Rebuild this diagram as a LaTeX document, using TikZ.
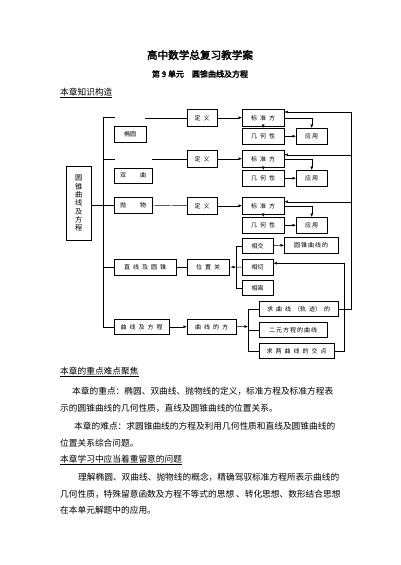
\documentclass[tikz,border=0pt]{standalone}
\usepackage{fontspec}
\setmainfont{Noto Sans CJK SC}[AutoFakeBold=2.5]
\usetikzlibrary{arrows.meta,calc}
\newcommand{\gp}{\hspace{3pt}}
\begin{document}
\begin{tikzpicture}[x=1pt,y=-1pt,
  bx/.style={draw, line width=0.45pt, inner sep=0pt, anchor=north west, font=\fontsize{6}{7}\selectfont},
  ln/.style={line width=0.45pt},
  ar/.style={line width=0.45pt, -{Latex[length=3.5pt,width=2.8pt]}},
  txt/.style={anchor=west, inner sep=0pt, font=\fontsize{8.7}{10}\selectfont}]
\useasboundingbox (0,0) rectangle (400,565);
% titles
\node[font=\fontsize{10.6}{12}\selectfont\bfseries] (title) at (200,55) {高中数学总复习教学案};
\node[font=\fontsize{8}{10}\selectfont\bfseries] (sub) at (200,74) {第 9 单元\hspace{8pt}圆锥曲线及方程};
\node[txt] (h1) at (60,93) {\underline{本章知识构造}};
% boxes
\node[bx, minimum width=25pt, minimum height=74pt, align=center, font=\fontsize{7.2}{8.3}\selectfont] (root) at (66,166) {圆\\锥\\曲\\线\\及\\方\\程};
\node[bx, minimum width=32pt, minimum height=16pt] (ty) at (114,126) {椭圆};
\node[bx, minimum width=38pt, minimum height=15pt] (sq) at (114,168) {双\hspace{14pt}曲};
\node[bx, minimum width=38pt, minimum height=16pt] (pw) at (114,197) {抛\hspace{14pt}物};
\foreach \i/\y/\yy in {1/109/128, 2/150/170, 3/197/217} {
  \node[bx, minimum width=30pt, minimum height=17pt] (dy\i) at (187,\y) {定\gp 义};
  \node[bx, minimum width=42pt, minimum height=17pt] (bz\i) at (242,\y) {标\gp 准\gp 方};
  \node[bx, minimum width=42pt, minimum height=16pt] (jh\i) at (242,\yy) {几\gp 何\gp 性};
  \node[bx, minimum width=31pt, minimum height=16pt] (yy\i) at (296,\yy) {应\,用};
  \draw[ar] (dy\i.east) -- (bz\i.west);
  \draw[ar] (bz\i.south) -- (jh\i.north);
  \draw[ar] (bz\i.east) -- (bz\i.east -| yy\i.north) -- (yy\i.north);
  \draw[ar] (jh\i.east) -- (yy\i.west);
}
\node[bx, minimum width=62pt, minimum height=16pt] (zx) at (114,259) {直\gp 线\gp 及\gp 圆\gp 锥};
\node[bx, minimum width=42pt, minimum height=16pt] (wz) at (187,259) {位\gp 置\gp 关};
\node[bx, minimum width=31pt, minimum height=15pt] (xj) at (242,238) {相交};
\node[bx, minimum width=31pt, minimum height=16pt] (xq) at (242,259) {相切};
\node[bx, minimum width=31pt, minimum height=15pt] (xl) at (242,280) {相离};
\node[bx, minimum width=54pt, minimum height=16pt] (yz) at (284,237) {圆\,锥\,曲\,线\,的};
\node[bx, minimum width=55pt, minimum height=15pt] (qx) at (114,319) {曲\gp 线\gp 及\gp 方\gp 程};
\node[bx, minimum width=49pt, minimum height=15pt] (qf) at (187,319) {曲\gp 线\gp 的\gp 方};
\node[bx, minimum width=79pt, minimum height=15pt] (g1) at (259,301) {求\gp 曲\gp 线\gp （轨\gp 迹）\gp 的};
\node[bx, minimum width=68pt, minimum height=15pt] (g2) at (259,322) {二\,元\,方\,程\,的\,曲\,线};
\node[bx, minimum width=75pt, minimum height=15pt] (g3) at (259,343) {求\gp 两\gp 曲\gp 线\gp 的\gp 交\gp 点};
% trunk
\coordinate (tTop) at (103,117.5);
\draw[ln] (tTop) -- (tTop |- qx.west) -- (qx.west);
\draw[ln] (tTop) -- ++(12,0);
\draw[ln] (dy1.west) -- ++(-42,0);
\draw[ln] (tTop |- dy2.west) -- ++(12,0);
\draw[ln] (dy2.west) -- ++(-35,0);
\draw[ln] (root.east |- pw.west) -- (pw.west);
\draw[ln] (pw.east) -- (dy3.west);
\draw[ln] (tTop |- zx.west) -- (zx.west);
\draw[ln] (zx.east) -- (wz.west);
% bracket 1
\coordinate (b1) at (236,267);
\draw[ar] (wz.east) -- (b1);
\draw[ln] (xj.west) -- (xj.west -| b1) -- (xl.west -| b1) -- (xl.west);
\draw[ln] (b1) -- (xq.west);
\draw[ar] (xj.east) -- (yz.west);
% bracket 2
\coordinate (b2) at (248,326.5);
\draw[ar] (qx.east) -- (qf.west);
\draw[ar] (qf.east) -- (b2);
\draw[ln] (g1.west) -- (g1.west -| b2) -- (g3.west -| b2) -- (g3.west);
\draw[ln] (b2 |- g2.west) -- (g2.west);
% feedback 1
\coordinate (fb) at (351,112);
\draw[ln] (g1.east) -- (g1.east -| fb) -- (fb);
\draw[ar] (fb) -- (fb -| bz1.east);
\coordinate (e2) at ($(bz2.east)+(0,-4)$);
\draw[ar] (e2 -| fb) -- (e2);
\coordinate (e3) at ($(bz3.east)+(0,-4)$);
\draw[ar] (e3 -| fb) -- (e3);
% feedback 2
\coordinate (e4) at ($(xq.east)+(0,-4)$);
\coordinate (fb2) at (344,0);
\draw[ar] (g3.east) -- (g3.east -| fb2) -- (e4 -| fb2) -- (e4);
% text
\node[txt] (h2) at (60,372) {\underline{本章的重点难点聚焦}};
\node[txt] (p1) at (72,391) {本章的重点：椭圆、双曲线、抛物线的定义，标准方程及标准方程表};
\node[txt] (p2) at (60,408) {示的圆锥曲线的几何性质，直线及圆锥曲线的位置关系。};
\node[txt] (p3) at (74,426) {本章的难点：求圆锥曲线的方程及利用几何性质和直线及圆锥曲线的};
\node[txt] (p4) at (60,443) {位置关系综合问题。};
\node[txt] (h3) at (60,460) {\underline{本章学习中应当着重留意的问题}};
\node[txt] (p5) at (78,477) {理解椭圆、双曲线、抛物线的概念，精确驾驭标准方程所表示曲线的};
\node[txt] (p6) at (60,494) {几何性质，特殊留意函数及方程不等式的思想 、转化思想、数形结合思想};
\node[txt] (p7) at (60,510) {在本单元解题中的应用。};
\end{tikzpicture}
\end{document}
